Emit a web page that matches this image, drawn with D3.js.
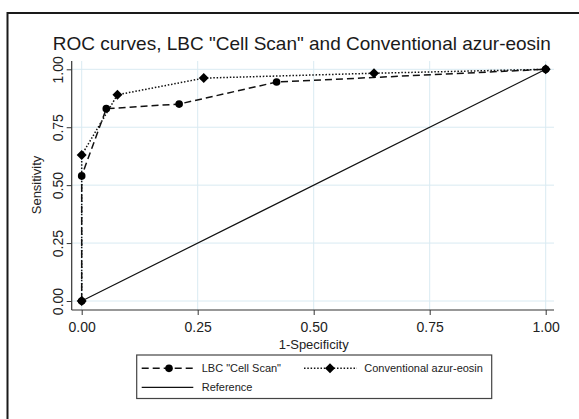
<!DOCTYPE html>
<html><head><meta charset="utf-8">
<script src="https://cdn.jsdelivr.net/npm/d3@7"></script>
<style>body{margin:0;background:#fff;} svg{display:block;font-family:"Liberation Sans",Arial,sans-serif;}</style>
</head><body>
<svg id="c" width="579" height="419"></svg>
<script>
const title = 'ROC curves, LBC "Cell Scan" and Conventional azur-eosin';
const xLabel = "1-Specificity";
const yLabel = "Sensitivity";
const ticks = [0, 0.25, 0.5, 0.75, 1];
const tickLabels = ["0.00", "0.25", "0.50", "0.75", "1.00"];
const lbcName = 'LBC "Cell Scan"';
const lbcFpr  = [0, 0, 0.053, 0.21, 0.42, 1];
const lbcSens = [0, 0.54, 0.83, 0.85, 0.945, 1];
const convName = "Conventional azur-eosin";
const convFpr  = [0, 0, 0.077, 0.263, 0.63, 1];
const convSens = [0, 0.63, 0.89, 0.962, 0.983, 1];
const refName = "Reference";
const refFpr = [0, 1];
const refSens = [0, 1];

const svg = d3.select("#c");
// outer frame (left & top visible)
svg.append("path").attr("d","M7.5,419 V13 H579").attr("fill","none").attr("stroke","#1a1a1a").attr("stroke-width",2);

const x = d3.scaleLinear().domain([0,1]).range([81.7,545.7]);
const y = d3.scaleLinear().domain([0,1]).range([301,69.3]);
const axX = 71.7, axY = 310, plotTop = 61, plotRight = 554;

// gridlines
const g = svg.append("g");
g.selectAll(".hg").data(ticks).join("line")
  .attr("x1",axX).attr("x2",plotRight).attr("y1",d=>y(d)).attr("y2",d=>y(d))
  .attr("stroke","#d9eaf2").attr("stroke-width",1);
g.selectAll(".vg").data(ticks).join("line")
  .attr("y1",plotTop).attr("y2",axY).attr("x1",d=>x(d)).attr("x2",d=>x(d))
  .attr("stroke","#d9eaf2").attr("stroke-width",1);

// axes
const xAxis = d3.axisBottom(x).tickValues(ticks).tickFormat((d,i)=>tickLabels[i]).tickSize(5).tickSizeOuter(0);
const xg = svg.append("g").attr("transform",`translate(0,${axY})`).call(xAxis);
xg.select(".domain").remove();
xg.append("line").attr("x1",axX).attr("x2",plotRight).attr("stroke","#333").attr("stroke-width",1.2);
xg.selectAll(".tick line").attr("stroke","#333");
xg.selectAll(".tick text").attr("font-size",14).attr("fill","#222").attr("font-family","Liberation Sans, Arial, sans-serif").attr("dy",0).attr("y",21.5);

const yAxis = d3.axisLeft(y).tickValues(ticks).tickFormat((d,i)=>tickLabels[i]).tickSize(5).tickSizeOuter(0);
const yg = svg.append("g").attr("transform",`translate(${axX},0)`).call(yAxis);
yg.select(".domain").remove();
yg.append("line").attr("y1",plotTop).attr("y2",axY).attr("stroke","#333").attr("stroke-width",1.2);
yg.selectAll(".tick line").attr("stroke","#333");
yg.selectAll(".tick text").attr("font-size",14).attr("fill","#222").attr("font-family","Liberation Sans, Arial, sans-serif")
  .attr("x",0).attr("dy",0).attr("text-anchor","middle").attr("transform","translate(-8.5,0) rotate(-90)");

// axis titles
svg.append("text").attr("x",313.7).attr("y",349).attr("text-anchor","middle").attr("font-size",13).attr("fill","#222").text(xLabel);
svg.append("text").attr("transform","translate(40.5,185) rotate(-90)").attr("text-anchor","middle").attr("font-size",13).attr("fill","#222").text(yLabel);

// title
svg.append("text").attr("x",52.7).attr("y",50).attr("font-size",19).attr("fill","#1a1a1a").text(title);

// series
const line = d3.line().x(d=>x(d[0])).y(d=>y(d[1]));
const refData = refFpr.map((v,i)=>[v,refSens[i]]);
const lbcData = lbcFpr.map((v,i)=>[v,lbcSens[i]]);
const convData = convFpr.map((v,i)=>[v,convSens[i]]);

svg.append("path").datum(refData).attr("d",line).attr("fill","none").attr("stroke","#111").attr("stroke-width",1.2);
svg.append("path").datum(lbcData).attr("d",line).attr("fill","none").attr("stroke","#111").attr("stroke-width",1.5).attr("stroke-dasharray","7,4");
svg.append("path").datum(convData).attr("d",line).attr("fill","none").attr("stroke","#111").attr("stroke-width",1.5).attr("stroke-dasharray","1.5,1.8");

const circ = d3.symbol().type(d3.symbolCircle).size(46);
const diam = d3.symbol().type(d3.symbolSquare).size(50);
svg.selectAll(".lbcpt").data(lbcData).join("path").attr("d",circ)
  .attr("transform",d=>`translate(${x(d[0])},${y(d[1])})`).attr("fill","#000");
svg.selectAll(".convpt").data(convData).join("path").attr("d",diam)
  .attr("transform",d=>`translate(${x(d[0])},${y(d[1])}) rotate(45)`).attr("fill","#000");

// legend
const lg = svg.append("g");
lg.append("rect").attr("x",136.7).attr("y",355).attr("width",355).attr("height",43.5).attr("fill","#fff").attr("stroke","#444").attr("stroke-width",1.2);
const r1 = 368.3, r2 = 387.3;
lg.append("line").attr("x1",141.7).attr("x2",193.3).attr("y1",r1).attr("y2",r1).attr("stroke","#111").attr("stroke-width",1.5).attr("stroke-dasharray","7,4");
lg.append("path").attr("d",circ).attr("transform",`translate(169,${r1})`).attr("fill","#000");
lg.append("text").attr("x",201.7).attr("y",r1+4).attr("font-size",11).attr("fill","#222").text(lbcName);
lg.append("line").attr("x1",304).attr("x2",357).attr("y1",r1).attr("y2",r1).attr("stroke","#111").attr("stroke-width",1.5).attr("stroke-dasharray","1.5,1.8");
lg.append("path").attr("d",diam).attr("transform",`translate(330,${r1}) rotate(45)`).attr("fill","#000");
lg.append("text").attr("x",364.3).attr("y",r1+4).attr("font-size",11).attr("fill","#222").text(convName);
lg.append("line").attr("x1",141.7).attr("x2",193.3).attr("y1",r2).attr("y2",r2).attr("stroke","#111").attr("stroke-width",1.2);
lg.append("text").attr("x",201.7).attr("y",r2+4).attr("font-size",11).attr("fill","#222").text(refName);
</script>
</body></html>
